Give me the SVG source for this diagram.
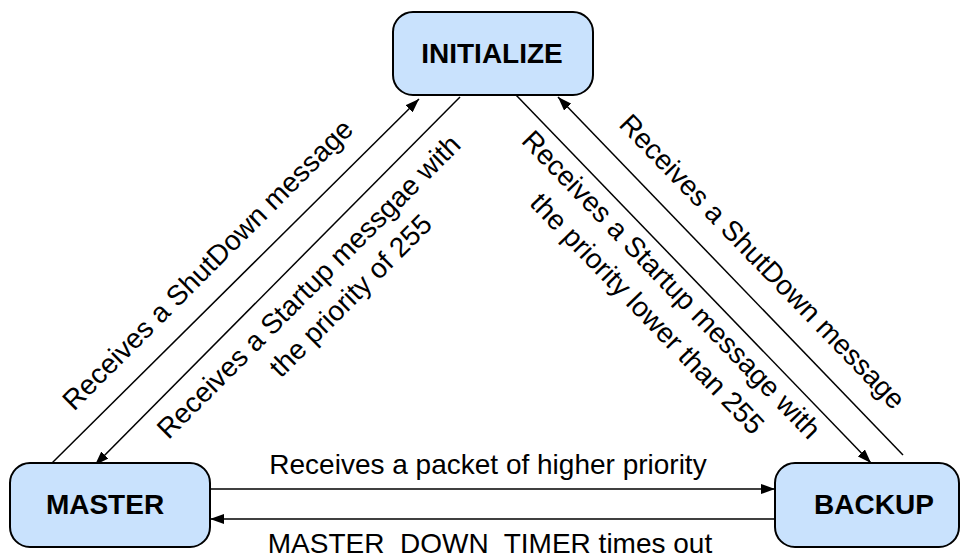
<svg xmlns="http://www.w3.org/2000/svg" width="962" height="559" viewBox="0 0 962 559">
  <style>
    .state { fill: #c9e2fd; stroke: #000; stroke-width: 2; }
    .state-label { font-family: "Liberation Sans", Arial, sans-serif; font-size: 28px; font-weight: bold; fill: #000; text-anchor: middle; }
    .edge { fill: none; stroke: #000; stroke-width: 1.5; }
    .edge-label { font-family: "Liberation Sans", Arial, sans-serif; font-size: 28px; fill: #000; text-anchor: middle; white-space: pre; }
  </style>
  <defs>
    <marker id="arrow" viewBox="0 0 14 10" refX="14" refY="5" markerWidth="14" markerHeight="10" markerUnits="userSpaceOnUse" orient="auto">
      <path d="M0,0 L14,5 L0,10 z" fill="#000"/>
    </marker>
  </defs>

  <rect width="962" height="559" fill="#fff"/>

  <!-- transitions -->
  <g id="connectors">
    <!-- MASTER -> INITIALIZE -->
    <path class="edge" d="M52,463 L419,99" marker-end="url(#arrow)"/>
    <!-- INITIALIZE -> MASTER -->
    <path class="edge" d="M460,97 L95,465" marker-end="url(#arrow)"/>
    <!-- INITIALIZE -> BACKUP -->
    <path class="edge" d="M516,95 L871,463" marker-end="url(#arrow)"/>
    <!-- BACKUP -> INITIALIZE -->
    <path class="edge" d="M903,455 L558,97" marker-end="url(#arrow)"/>
    <!-- MASTER -> BACKUP -->
    <path class="edge" d="M210,489 L775,489" marker-end="url(#arrow)"/>
    <!-- BACKUP -> MASTER -->
    <path class="edge" d="M775,519 L210,519" marker-end="url(#arrow)"/>

    <text class="edge-label" transform="translate(208,265) rotate(-45)" y="9">Receives a ShutDown message</text>
    <text class="edge-label" transform="translate(309,287) rotate(-45)" y="9">Receives a Startup messgae with</text>
    <text class="edge-label" transform="translate(351,296) rotate(-45)" y="9">the priority of 255</text>
    <text class="edge-label" transform="translate(762,262) rotate(46)" y="9">Receives a ShutDown message</text>
    <text class="edge-label" transform="translate(671,285) rotate(46)" y="9">Receives a Startup message with</text>
    <text class="edge-label" transform="translate(647,314) rotate(46)" y="9">the priority lower than 255</text>
    <text class="edge-label" x="488" y="474">Receives a packet of higher priority</text>
    <text class="edge-label" x="490" y="553">MASTER  DOWN  TIMER times out</text>
  </g>

  <g id="initialize">
    <rect class="state" x="393" y="12" width="200" height="83" rx="20" ry="20"/>
    <text class="state-label" x="492" y="63">INITIALIZE</text>
  </g>
  <g id="master">
    <rect class="state" x="10" y="463" width="200" height="84" rx="20" ry="20"/>
    <text class="state-label" x="105" y="514">MASTER</text>
  </g>
  <g id="backup">
    <rect class="state" x="775" y="463" width="184" height="84" rx="20" ry="20"/>
    <text class="state-label" x="874" y="514">BACKUP</text>
  </g>
</svg>
